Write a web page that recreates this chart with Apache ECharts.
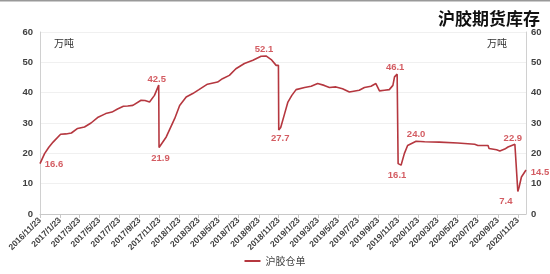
<!DOCTYPE html>
<html><head><meta charset="utf-8">
<script src="https://cdn.jsdelivr.net/npm/echarts@6/dist/echarts.min.js"></script>
<style>html,body{margin:0;padding:0;background:#fff}#c{width:550px;height:274px}</style>
</head><body><div id="c"></div>
<script>
const chartTitle = '沪胶期货库存';
const seriesName = '沪胶仓单';
const unitText = '万吨';
const dates = ['2016/11/23','2016/12/7','2016/12/20','2017/1/2','2017/1/25','2017/2/10','2017/2/27','2017/3/18','2017/4/8','2017/4/28','2017/5/18','2017/6/12','2017/7/1','2017/7/18','2017/8/5','2017/8/18','2017/9/3','2017/9/28','2017/10/10','2017/10/24','2017/11/8','2017/11/21','2017/11/22','2017/12/14','2018/1/9','2018/1/24','2018/2/13','2018/3/5','2018/3/24','2018/4/19','2018/5/20','2018/6/4','2018/6/25','2018/7/15','2018/8/10','2018/9/5','2018/9/30','2018/10/15','2018/10/31','2018/11/15','2018/11/22','2018/11/23','2018/11/29','2018/12/11','2018/12/21','2019/1/2','2019/1/15','2019/2/10','2019/3/2','2019/3/22','2019/4/11','2019/4/27','2019/5/17','2019/6/6','2019/6/27','2019/7/27','2019/8/12','2019/9/1','2019/9/16','2019/9/27','2019/10/12','2019/10/27','2019/11/7','2019/11/12','2019/11/20','2019/11/23','2019/12/2','2019/12/12','2019/12/22','2020/1/17','2020/2/12','2020/3/28','2020/5/23','2020/7/14','2020/7/24','2020/7/30','2020/8/24','2020/8/27','2020/9/19','2020/9/29','2020/10/14','2020/10/24','2020/11/14','2020/11/20','2020/11/23','2020/11/27','2020/12/4','2020/12/18'];
const values = [16.6,19.9,22.0,23.7,26.3,26.4,26.7,28.2,28.7,30.0,31.8,33.1,33.6,34.6,35.5,35.6,35.8,37.5,37.4,36.9,39.1,42.5,21.9,25.4,31.5,35.8,38.6,39.7,41.0,42.8,43.5,44.6,45.7,47.9,49.6,50.7,52.0,52.1,50.9,49.0,49.0,27.7,28.5,33.1,36.9,39.1,41.0,41.7,42.1,43.0,42.4,41.7,41.9,41.3,40.2,40.8,41.7,42.1,43.0,40.6,40.8,41.0,42.4,45.2,46.1,16.6,16.1,19.9,22.6,24.0,23.8,23.7,23.4,23.0,22.6,23.0,22.6,21.6,21.2,20.8,21.4,22.1,23.0,22.9,7.4,8.9,12.2,14.5];
const tickDates = ['2016/11/23','2017/1/23','2017/3/23','2017/5/23','2017/7/23','2017/9/23','2017/11/23','2018/1/23','2018/3/23','2018/5/23','2018/7/23','2018/9/23','2018/11/23','2019/1/23','2019/3/23','2019/5/23','2019/7/23','2019/9/23','2019/11/23','2020/1/23','2020/3/23','2020/5/23','2020/7/23','2020/9/23','2020/11/23'];
const axisStart = '2016/11/23';
const axisEnd = '2020/12/18';
const labeledDates = ['2016/11/23','2017/11/21','2017/11/22','2018/10/15','2018/11/23','2019/11/20','2019/12/2','2020/1/17','2020/11/20','2020/11/23','2020/12/18'];
// label offsets (style only)
const labelOffsets = {'2016/11/23':[14,1],'2017/11/21':[-2,-6],'2017/11/22':[1.5,11],'2018/10/15':[-2,-7],'2018/11/23':[1.5,8],'2019/11/20':[-2,-7],'2019/12/2':[-4,10],'2020/1/17':[0,-7],'2020/11/20':[-4,-6],'2020/11/23':[-12,10],'2020/12/18':[14,2]};

function p(s){const [y,m,d]=s.split('/').map(Number);return Date.UTC(y,m-1,d)/86400000;}
function fmt(v){const d=new Date(Math.round(v)*86400000);return d.getUTCFullYear()+'/'+(d.getUTCMonth()+1)+'/'+d.getUTCDate();}

const lineData = dates.map((d,i)=>[p(d), values[i]]);
const labelData = labeledDates.map(d=>{
  const i = dates.indexOf(d);
  return {value:[p(d), values[i]], label:{offset:labelOffsets[d]}};
});
const red = '#B5373F';
const tickVals = tickDates.map(p);
const chart = echarts.init(document.getElementById('c'), null, {renderer:'canvas'});
chart.setOption({
  animation:false,
  backgroundColor:'#fff',
  title:{text:chartTitle,right:5,top:5,textStyle:{fontSize:17,fontWeight:'bold',color:'#111',fontFamily:'Noto Sans CJK SC'}},
  graphic:[
    {type:'line',shape:{x1:0,y1:0.5,x2:550,y2:0.5},style:{stroke:'#999',lineWidth:2}},
    {type:'text',left:54,top:38,style:{text:unitText,fontSize:10,fill:'#333',fontFamily:'Noto Sans CJK SC'}},
    {type:'text',left:487,top:38,style:{text:unitText,fontSize:10,fill:'#333',fontFamily:'Noto Sans CJK SC'}}
  ],
  legend:{data:[seriesName],bottom:3,left:'center',icon:'rect',itemWidth:16,itemHeight:2,
    textStyle:{fontSize:10,color:'#404040',fontFamily:'Noto Sans CJK SC'}},
  grid:{left:40,right:24,top:32,bottom:60,containLabel:false},
  xAxis:{type:'value',min:p(axisStart),max:p(axisEnd),
    axisLine:{lineStyle:{color:'#c8c8c8'}},
    axisTick:{show:true,customValues:tickVals,length:4,lineStyle:{color:'#c8c8c8'}},
    axisLabel:{customValues:tickVals,formatter:fmt,rotate:45,fontSize:8.5,fontWeight:'bold',color:'#404040',margin:5,fontFamily:'Liberation Sans'},
    splitLine:{show:false}},
  yAxis:[
    {type:'value',min:0,max:60,interval:10,position:'left',
      axisLine:{show:true,lineStyle:{color:'#d0d0d0'}},axisTick:{show:false},
      axisLabel:{fontSize:9.5,fontWeight:'bold',color:'#404040',margin:7,fontFamily:'Liberation Sans'},
      splitLine:{show:true,lineStyle:{color:'#f0f0f0'}}},
    {type:'value',min:0,max:60,interval:10,position:'right',
      axisLine:{show:true,lineStyle:{color:'#d0d0d0'}},axisTick:{show:false},
      axisLabel:{fontSize:9.5,fontWeight:'bold',color:'#404040',margin:5,fontFamily:'Liberation Sans'},
      splitLine:{show:false}}
  ],
  series:[
    {name:seriesName,type:'line',data:lineData,showSymbol:false,symbol:'none',
      lineStyle:{color:red,width:1.6},itemStyle:{color:red},silent:true},
    {name:'labels',type:'scatter',data:labelData,symbolSize:0,silent:true,
      label:{show:true,position:'inside',color:'#C8333B',fontSize:9.5,fontWeight:'bold',fontFamily:'Liberation Sans',
        formatter:(pr)=>pr.value[1].toFixed(1)}}
  ]
});
</script></body></html>
